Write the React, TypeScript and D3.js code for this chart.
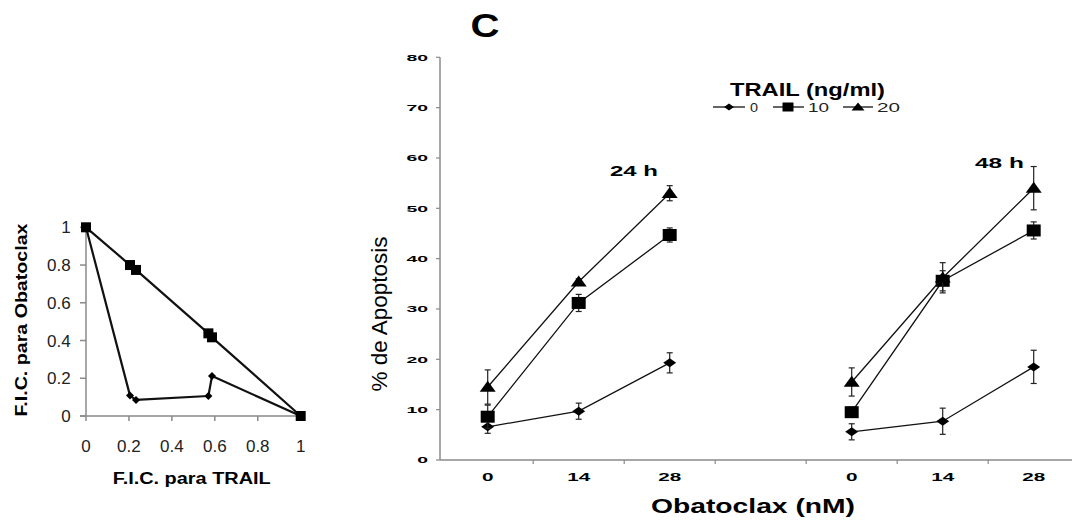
import React from "react";
import * as d3 from "d3";

// ---------- Left panel: isobologram ----------
const ficTicks = [0, 0.2, 0.4, 0.6, 0.8, 1];
const ficTickLabels = ["0", "0.2", "0.4", "0.6", "0.8", "1"];
const sqTrail = [0, 0.205, 0.233, 0.57, 0.587, 1];
const sqObat = [1, 0.8, 0.774, 0.438, 0.417, 0];
const dmTrail = [0, 0.205, 0.233, 0.57, 0.587, 1];
const dmObat = [1, 0.108, 0.085, 0.106, 0.212, 0];

// ---------- Right panel: % apoptosis ----------
const xSlots = ["24-0", "24-14", "24-28", "gap", "48-0", "48-14", "48-28"];
const xTickLabels = ["0", "14", "28", "", "0", "14", "28"];
const slots24 = ["24-0", "24-14", "24-28"];
const slots48 = ["48-0", "48-14", "48-28"];
const yTicks = [0, 10, 20, 30, 40, 50, 60, 70, 80];
const trailLevels = ["0", "10", "20"];

const t0_24 = [6.6, 9.7, 19.3];
const t0_24e = [1.3, 1.6, 2.0];
const t10_24 = [8.6, 31.2, 44.7];
const t10_24e = [2.3, 1.7, 1.4];
const t20_24 = [14.5, 35.4, 53.0];
const t20_24e = [3.4, 0.6, 1.5];

const t0_48 = [5.6, 7.7, 18.5];
const t0_48e = [1.6, 2.6, 3.3];
const t10_48 = [9.5, 35.6, 45.6];
const t10_48e = [1.0, 2.0, 1.7];
const t20_48 = [15.5, 36.2, 54.0];
const t20_48e = [2.8, 3.0, 4.3];

const FONT = "'Liberation Sans', Arial, sans-serif";

type Shape = "diamond" | "square" | "triangle";

function markerPath(shape: Shape, w: number, h: number): string {
  const a = w / 2, b = h / 2;
  if (shape === "diamond") return `M${-a},0L0,${-b}L${a},0L0,${b}Z`;
  if (shape === "square") return `M${-a},${-b}H${a}V${b}H${-a}Z`;
  return `M${-a},${b * 0.85}L0,${-b * 1.15}L${a},${b * 0.85}Z`;
}

const shapeFor: Shape[] = ["diamond", "square", "triangle"];
const markerSize: Record<Shape, [number, number]> = {
  diamond: [13, 9],
  square: [14, 12],
  triangle: [16, 11],
};

export default function App() {
  // left scales
  const lx = d3.scaleLinear().domain([0, 1]).range([86, 300.7]);
  const ly = d3.scaleLinear().domain([0, 1]).range([416, 227.3]);
  const lline = d3
    .line<[number, number]>()
    .x((d) => lx(d[0]))
    .y((d) => ly(d[1]));
  const sqPts: [number, number][] = sqTrail.map((v, i) => [v, sqObat[i]]);
  const dmPts: [number, number][] = dmTrail.map((v, i) => [v, dmObat[i]]);

  // right scales
  const rx = d3.scaleBand<string>().domain(xSlots).range([442.2, 1079.2]);
  const ry = d3.scaleLinear().domain([0, 80]).range([460, 57.3]);
  const bw = rx.bandwidth();
  const cx = (s: string) => (rx(s) as number) + bw / 2;

  const groups = [
    { slots: slots24, series: [[t0_24, t0_24e], [t10_24, t10_24e], [t20_24, t20_24e]] },
    { slots: slots48, series: [[t0_48, t0_48e], [t10_48, t10_48e], [t20_48, t20_48e]] },
  ];
  const rline = d3
    .line<[string, number]>()
    .x((d) => cx(d[0]))
    .y((d) => ry(d[1]));

  const legendItems = [
    { x0: 713, x1: 745, mx: 729, tx: 750, w: 22 * 0 + 8 },
    { x0: 773, x1: 804, mx: 788, tx: 808, w: 21 },
    { x0: 843, x1: 873, mx: 858, tx: 877, w: 23 },
  ];
  const legendMarker: Record<Shape, [number, number]> = {
    diamond: [10, 7],
    square: [11, 9],
    triangle: [13, 8],
  };

  return (
    <svg
      width={1072}
      height={520}
      style={{ position: "absolute", left: 0, top: 0, background: "#fff" }}
      fontFamily={FONT}
    >
      {/* ================= Left panel ================= */}
      <g>
        {/* axes */}
        <line x1={lx(0)} x2={lx(0)} y1={ly(1)} y2={ly(0)} stroke="#8a8a8a" strokeWidth={1.5} />
        <line x1={80} x2={lx(1) + 2} y1={ly(0)} y2={ly(0)} stroke="#8a8a8a" strokeWidth={1.5} />
        {ficTicks.map((t, i) => (
          <g key={"lyt" + i}>
            <line x1={80} x2={lx(0)} y1={ly(t)} y2={ly(t)} stroke="#8a8a8a" strokeWidth={1.5} />
            <text x={70.7} y={ly(t) + 6} textAnchor="end" fontSize={17} fill="#222">
              {ficTickLabels[i]}
            </text>
          </g>
        ))}
        {ficTicks.map((t, i) => (
          <g key={"lxt" + i}>
            <line x1={lx(t)} x2={lx(t)} y1={ly(0)} y2={ly(0) + 5} stroke="#8a8a8a" strokeWidth={1.5} />
            <text x={lx(t)} y={451.7} textAnchor="middle" fontSize={17} fill="#222">
              {ficTickLabels[i]}
            </text>
          </g>
        ))}
        <text
          x={191.7}
          y={484}
          textAnchor="middle"
          fontSize={16}
          fontWeight="bold"
          textLength={158}
          lengthAdjust="spacingAndGlyphs"
        >
          F.I.C. para TRAIL
        </text>
        <text
          transform="translate(27,320) rotate(-90)"
          textAnchor="middle"
          fontSize={16}
          fontWeight="bold"
          textLength={193}
          lengthAdjust="spacingAndGlyphs"
        >
          F.I.C. para Obatoclax
        </text>
        {/* lines */}
        <path d={lline(sqPts) || ""} fill="none" stroke="#111" strokeWidth={2.2} strokeLinejoin="round" />
        <path d={lline(dmPts) || ""} fill="none" stroke="#111" strokeWidth={2.2} strokeLinejoin="round" />
        {sqPts.map((p, i) => (
          <path key={"sq" + i} transform={`translate(${lx(p[0])},${ly(p[1])})`} d={markerPath("square", 10, 10)} fill="#000" />
        ))}
        {dmPts.slice(1, 5).map((p, i) => (
          <path key={"dm" + i} transform={`translate(${lx(p[0])},${ly(p[1])})`} d={markerPath("diamond", 8, 8)} fill="#000" />
        ))}
      </g>

      {/* ================= Right panel ================= */}
      <g>
        <text
          x={485}
          y={37}
          textAnchor="middle"
          fontSize={34}
          fontWeight="bold"
          textLength={29}
          lengthAdjust="spacingAndGlyphs"
        >
          C
        </text>
        {/* y axis */}
        <line x1={440} x2={440} y1={ry(80)} y2={ry(0)} stroke="#8a8a8a" strokeWidth={1.5} />
        {yTicks.map((t) => (
          <g key={"ryt" + t}>
            <line x1={436} x2={440} y1={ry(t)} y2={ry(t)} stroke="#8a8a8a" strokeWidth={1.2} />
            <text
              x={428}
              y={ry(t) + 3.4}
              textAnchor="end"
              fontSize={9.5}
              fontWeight="bold"
              textLength={10.8 * String(t).length}
              lengthAdjust="spacingAndGlyphs"
            >
              {t}
            </text>
          </g>
        ))}
        {/* x axis */}
        <line x1={440} x2={1072} y1={ry(0)} y2={ry(0)} stroke="#8a8a8a" strokeWidth={1.5} />
        {xSlots.slice(1).map((s) => (
          <line
            key={"rxt" + s}
            x1={rx(s) as number}
            x2={rx(s) as number}
            y1={ry(0)}
            y2={ry(0) + 4}
            stroke="#8a8a8a"
            strokeWidth={1.2}
          />
        ))}
        {xSlots.map((s, i) =>
          xTickLabels[i] ? (
            <text
              key={"rxl" + s}
              x={cx(s)}
              y={480.7}
              textAnchor="middle"
              fontSize={10}
              fontWeight="bold"
              textLength={11.5 * xTickLabels[i].length}
              lengthAdjust="spacingAndGlyphs"
            >
              {xTickLabels[i]}
            </text>
          ) : null
        )}
        <text
          x={753}
          y={513}
          textAnchor="middle"
          fontSize={20}
          fontWeight="bold"
          textLength={204}
          lengthAdjust="spacingAndGlyphs"
        >
          Obatoclax (nM)
        </text>
        <text
          transform="translate(387,314) rotate(-90)"
          textAnchor="middle"
          fontSize={22}
          textLength={155}
          lengthAdjust="spacingAndGlyphs"
        >
          % de Apoptosis
        </text>

        {/* group labels */}
        <text x={634} y={176} textAnchor="middle" fontSize={15.5} fontWeight="bold" textLength={48} lengthAdjust="spacingAndGlyphs">
          {"24 h"}
        </text>
        <text x={999.5} y={168.3} textAnchor="middle" fontSize={15.5} fontWeight="bold" textLength={49} lengthAdjust="spacingAndGlyphs">
          {"48 h"}
        </text>

        {/* series */}
        {groups.map((g, gi) =>
          g.series.map(([vals, errs], si) => {
            const pts: [string, number][] = g.slots.map((s, k) => [s, vals[k]]);
            const shape = shapeFor[si];
            const [mw, mh] = markerSize[shape];
            return (
              <g key={`s${gi}-${si}`}>
                <path d={rline(pts) || ""} fill="none" stroke="#111" strokeWidth={1.3} />
                {g.slots.map((s, k) => {
                  const x = cx(s);
                  const y0 = ry(vals[k] - errs[k]);
                  const y1 = ry(vals[k] + errs[k]);
                  return (
                    <g key={`e${k}`}>
                      <line x1={x} x2={x} y1={y0} y2={y1} stroke="#222" strokeWidth={1.2} />
                      <line x1={x - 3} x2={x + 3} y1={y0} y2={y0} stroke="#222" strokeWidth={1.2} />
                      <line x1={x - 3} x2={x + 3} y1={y1} y2={y1} stroke="#222" strokeWidth={1.2} />
                    </g>
                  );
                })}
                {g.slots.map((s, k) => (
                  <path
                    key={`m${k}`}
                    transform={`translate(${cx(s)},${ry(vals[k])})`}
                    d={markerPath(shape, mw, mh)}
                    fill="#000"
                  />
                ))}
              </g>
            );
          })
        )}

        {/* legend */}
        <text
          x={807.5}
          y={96}
          textAnchor="middle"
          fontSize={17.5}
          fontWeight="bold"
          textLength={155}
          lengthAdjust="spacingAndGlyphs"
        >
          TRAIL (ng/ml)
        </text>
        {trailLevels.map((lv, i) => {
          const it = legendItems[i];
          const shape = shapeFor[i];
          const [mw, mh] = legendMarker[shape];
          return (
            <g key={"lg" + lv}>
              <line x1={it.x0} x2={it.x1} y1={107} y2={107} stroke="#111" strokeWidth={1.3} />
              <path transform={`translate(${it.mx},107)`} d={markerPath(shape, mw, mh)} fill="#000" />
              <text
                x={it.tx}
                y={112}
                fontSize={13}
                fill="#222"
                textLength={it.w}
                lengthAdjust="spacingAndGlyphs"
              >
                {lv}
              </text>
            </g>
          );
        })}
      </g>
    </svg>
  );
}
